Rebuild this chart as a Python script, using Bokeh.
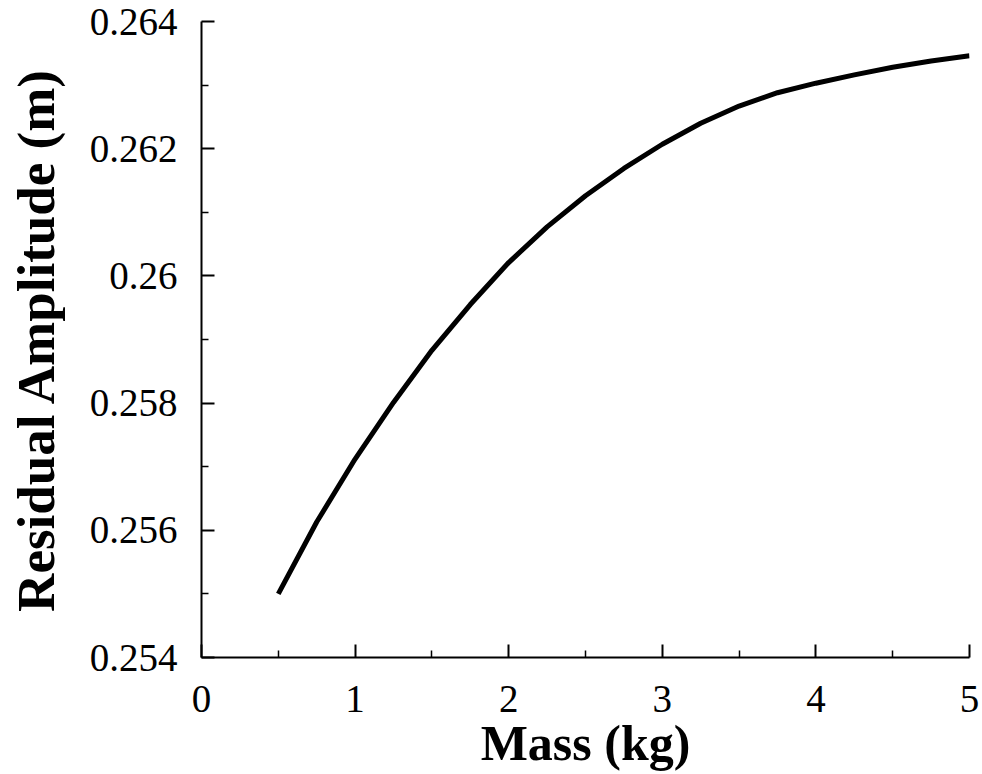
from bokeh.plotting import figure
from bokeh.embed import file_html
from bokeh.resources import INLINE
from bokeh.models import Range1d, FixedTicker

mass = [0.5, 0.75, 1.0, 1.25, 1.5, 1.75, 2.0, 2.25, 2.5, 2.75, 3.0,
        3.25, 3.5, 3.75, 4.0, 4.25, 4.5, 4.75, 5.0]
amplitude = [0.25500, 0.25613, 0.25712, 0.25801, 0.25883, 0.25955, 0.26021,
             0.26077, 0.26126, 0.26169, 0.26207, 0.26240, 0.26267, 0.26288,
             0.26303, 0.26316, 0.26328, 0.26338, 0.26346]
x_ticks = [0, 1, 2, 3, 4, 5]
y_ticks = [0.254, 0.256, 0.258, 0.260, 0.262, 0.264]
y_labels = {0.254: "0.254", 0.256: "0.256", 0.258: "0.258", 0.26: "0.26",
            0.262: "0.262", 0.264: "0.264"}

p = figure(width=982, height=774, output_backend="svg", toolbar_location=None,
           x_range=Range1d(0, 5), y_range=Range1d(0.254, 0.264),
           min_border_left=201, min_border_right=13, min_border_top=21,
           min_border_bottom=117)
p.outline_line_color = None
p.xgrid.visible = False
p.ygrid.visible = False
p.background_fill_color = "white"
p.border_fill_color = "white"

p.line(mass, amplitude, line_color="black", line_width=5, line_join="round")

font = "Liberation Serif"
for ax in (p.xaxis[0], p.yaxis[0]):
    ax.axis_line_color = "black"
    ax.axis_line_width = 2
    ax.major_tick_line_color = "black"
    ax.major_tick_line_width = 2
    ax.minor_tick_line_color = "black"
    ax.minor_tick_line_width = 1.5
    ax.major_tick_in = 13
    ax.major_tick_out = 0
    ax.minor_tick_in = 7
    ax.minor_tick_out = 0
    ax.major_label_text_font = font
    ax.major_label_text_font_size = "39px"
    ax.major_label_text_color = "black"
    ax.axis_label_text_font = font
    ax.axis_label_text_font_style = "bold"
    ax.axis_label_text_font_size = "50px"
    ax.axis_label_text_color = "black"

p.yaxis.axis_label_text_font_size = "53px"
p.xaxis.ticker = FixedTicker(ticks=x_ticks, minor_ticks=[0.5, 1.5, 2.5, 3.5, 4.5])
p.yaxis.ticker = FixedTicker(ticks=y_ticks,
                             minor_ticks=[0.255, 0.257, 0.259, 0.261, 0.263])
p.yaxis.major_label_overrides = y_labels
p.xaxis.axis_label = "Mass (kg)"
p.yaxis.axis_label = "Residual Amplitude (m)"
p.xaxis.major_label_standoff = 28
p.yaxis.major_label_standoff = 24
p.xaxis.axis_label_standoff = 0
p.yaxis.axis_label_standoff = 22

open("out.html", "w").write(file_html(p, INLINE))
